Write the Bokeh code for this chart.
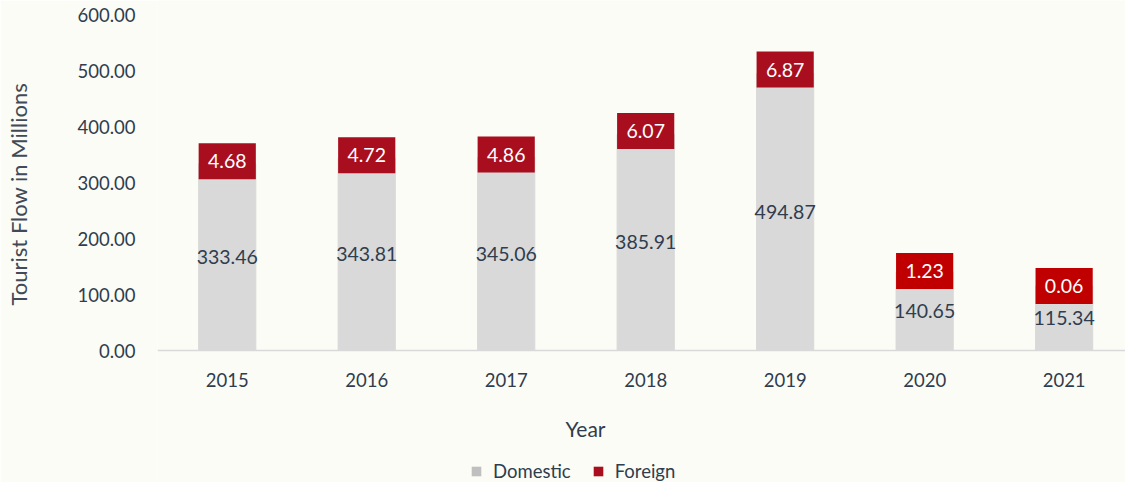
import math
from bokeh.plotting import figure
from bokeh.models import (ColumnDataSource, Range1d, FixedTicker, NumeralTickFormatter,
                          Legend, LegendItem, Label, Span, Title, LinearAxis)
from bokeh.embed import file_html
from bokeh.resources import INLINE
from bokeh.core.properties import value

# ---- data ----
years = ["2015", "2016", "2017", "2018", "2019", "2020", "2021"]
domestic = [333.46, 343.81, 345.06, 385.91, 494.87, 140.65, 115.34]
foreign = [4.68, 4.72, 4.86, 6.07, 6.87, 1.23, 0.06]
y_ticks = [0, 100, 200, 300, 400, 500, 600]

# ---- styles ----
FONT = "Lato"
TXT = "#2f3d4f"
GREY = "#d9d9d9"
LEG_GREY = "#bfbfbf"
RED = "#a90e1f"
foreign_colors = ["#a90e1f", "#a90e1f", "#a90e1f", "#a90e1f", "#a90e1f", "#c00000", "#c00000"]
BG = "#fbfcf5"

idx = list(range(len(years)))
total = [d + f for d, f in zip(domestic, foreign)]
src = ColumnDataSource(dict(
    x=idx,
    zero=[0] * len(years),
    year=years,
    dom=domestic,
    tot=total,
    mid=[d / 2 for d in domestic],
    dom_lbl=["%.2f" % d for d in domestic],
    for_lbl=["%.2f" % f for f in foreign],
    fcol=foreign_colors,
))

# frame spans the full height; value 0 sits 350px from the top
PX_PER_UNIT = 0.56
p = figure(width=1125, height=482, output_backend="svg", toolbar_location=None,
           x_range=Range1d(-0.5, 6.44),
           y_range=Range1d(-132 / PX_PER_UNIT, 350 / PX_PER_UNIT),
           x_axis_location=None,
           min_border_left=157, min_border_right=0, min_border_top=0, min_border_bottom=0,
           background_fill_color=BG, border_fill_color=BG, outline_line_color=None)

p.xgrid.visible = False
p.ygrid.visible = False

# baseline
p.add_layout(Span(location=0, dimension="width", line_color="#d9d9d9", line_width=1.5))

# domestic bars
r_dom = p.vbar(x="x", top="dom", bottom=0, width=0.41, color=GREY, source=src)
# foreign label boxes centred on the stack top
r_for = p.rect(x="x", y="tot", width=0.41, height=36, height_units="screen",
               fill_color="fcol", line_color=None, source=src)

p.text(x="x", y="mid", text="dom_lbl", source=src, text_align="center",
       text_baseline="middle", text_font=value(FONT), text_font_size="19.5px", text_color=TXT)
p.text(x="x", y="tot", text="for_lbl", source=src, text_align="center",
       text_baseline="middle", text_font=value(FONT), text_font_size="19.5px", text_color="white")

# category labels under the baseline
p.text(x="x", y="zero", text="year", source=src, y_offset=29, text_align="center",
       text_baseline="middle", text_font=value(FONT), text_font_size="18.5px", text_color=TXT)

# y axis
p.yaxis.ticker = FixedTicker(ticks=y_ticks)
p.yaxis.formatter = NumeralTickFormatter(format="0.00")
p.yaxis.axis_line_color = None
p.yaxis.major_tick_line_color = None
p.yaxis.minor_tick_line_color = None
p.yaxis.major_tick_out = 0
p.yaxis.major_label_standoff = 22
p.yaxis.major_label_text_font = FONT
p.yaxis.major_label_text_font_size = "18.5px"
p.yaxis.major_label_text_color = TXT

# blank spacer axis (background-coloured tick, empty label) so the title sits at the far left
spacer = LinearAxis(ticker=FixedTicker(ticks=y_ticks[:1]), axis_line_color=None,
                    major_tick_line_color=BG, minor_tick_line_color=None,
                    major_tick_in=0, major_tick_out=37, major_label_standoff=0,
                    major_label_overrides={y_ticks[0]: ""},
                    major_label_text_font_size="1px", major_label_text_color=BG)
p.add_layout(spacer, "left")
p.add_layout(Title(text="Tourist Flow in Millions", align="left", offset=177,
                   vertical_align="top", standoff=8, text_font=FONT,
                   text_font_size="22px", text_font_style="normal",
                   text_color="#404a58"), "left")

# x axis title
p.add_layout(Label(x=428, y=54, x_units="screen", y_units="screen", text="Year",
                   text_align="center", text_baseline="middle", text_font=FONT,
                   text_font_size="21px", text_color=TXT))

# legend (zero-width bars on the same data only supply the legend swatches)
sw_dom = p.vbar(x="x", top="dom", width=0, fill_color=LEG_GREY, line_color=None, source=src)
sw_for = p.vbar(x="x", top="tot", width=0, fill_color=RED, line_color=None, source=src)
legend = Legend(items=[LegendItem(label="Domestic", renderers=[sw_dom]),
                       LegendItem(label="Foreign", renderers=[sw_for])],
                location=(313, 0), orientation="horizontal",
                glyph_width=12, glyph_height=12, label_standoff=11, spacing=21,
                padding=0, margin=0, border_line_color=None, background_fill_alpha=0,
                label_text_font=FONT, label_text_font_size="18.5px", label_text_color=TXT)
p.add_layout(legend, "center")

open("out.html", "w").write(file_html(p, INLINE))
